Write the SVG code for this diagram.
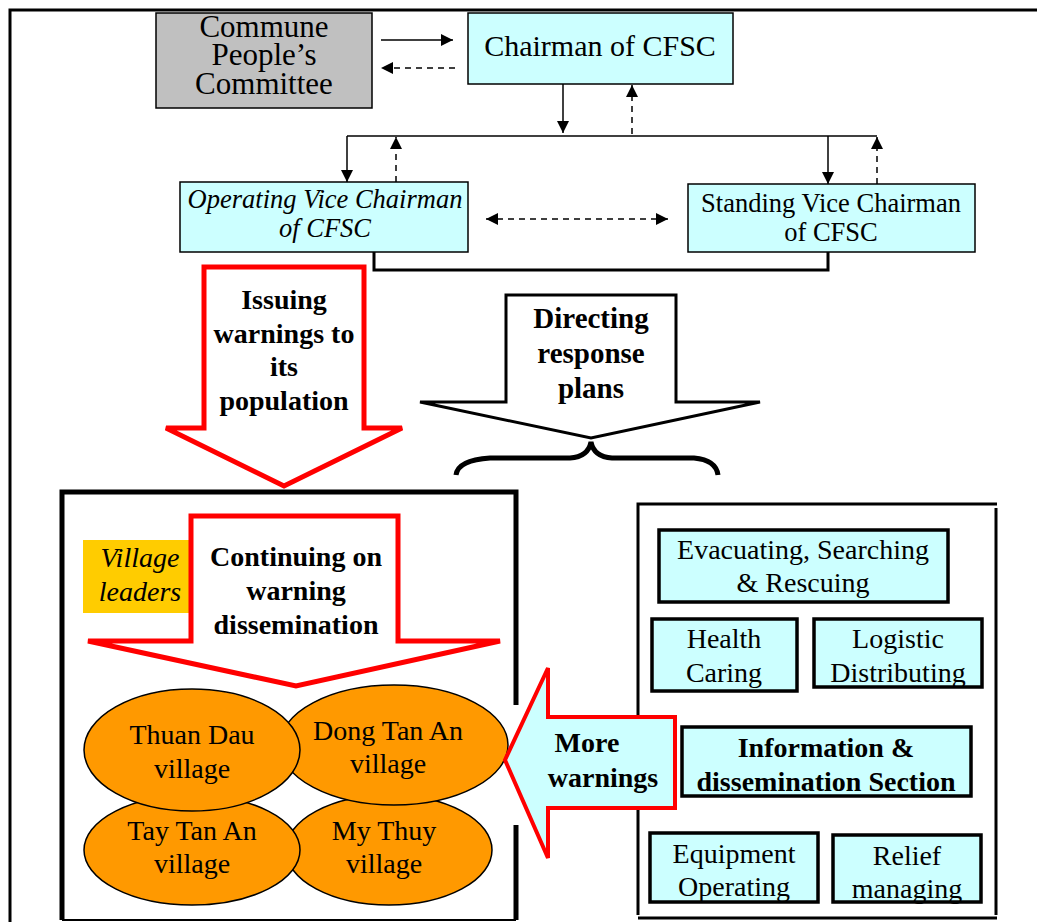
<svg xmlns="http://www.w3.org/2000/svg" width="1037" height="922" viewBox="0 0 1037 922">
<style>
.t{font-family:"Liberation Serif","Times New Roman",serif;fill:#000;text-anchor:middle}
.b{font-weight:bold}
.i{font-style:italic}
.cy{fill:#ccffff;stroke:#000;stroke-width:1.5}
.sub{fill:#ccffff;stroke:#000;stroke-width:3.5}
.ln{stroke:#000;stroke-width:1.5;fill:none}
.ds{stroke-dasharray:6 5}
.red{fill:#fff;stroke:#ff0000;stroke-width:5}
.vil{fill:#ff9900;stroke:#000;stroke-width:1.5}
</style>
<defs>
<marker id="ah" viewBox="0 0 10 10" refX="10" refY="5" markerWidth="14" markerHeight="12" markerUnits="userSpaceOnUse" orient="auto-start-reverse"><path d="M0,0 L10,5 L0,10 z" fill="#000"/></marker>
</defs>
<rect width="1037" height="922" fill="#fff"/>
<path d="M10,922 V10 H1037" fill="none" stroke="#000" stroke-width="3"/>

<g id="connectors">
<line class="ln" x1="381" y1="40" x2="453" y2="40" marker-end="url(#ah)"/>
<line class="ln ds" x1="455" y1="68" x2="381" y2="68" marker-end="url(#ah)"/>
<line class="ln" x1="563" y1="84" x2="563" y2="133" marker-end="url(#ah)"/>
<line class="ln ds" x1="632" y1="134" x2="632" y2="85" marker-end="url(#ah)"/>
<line class="ln" x1="347" y1="136" x2="877" y2="136"/>
<line class="ln" x1="347" y1="136" x2="347" y2="182" marker-end="url(#ah)"/>
<line class="ln ds" x1="396" y1="182" x2="396" y2="137" marker-end="url(#ah)"/>
<line class="ln" x1="828" y1="136" x2="828" y2="184" marker-end="url(#ah)"/>
<line class="ln ds" x1="877" y1="184" x2="877" y2="137" marker-end="url(#ah)"/>
<line class="ln ds" x1="486" y1="219" x2="668" y2="219" marker-start="url(#ah)" marker-end="url(#ah)"/>
<path d="M374,252 V270 H828 V251" fill="none" stroke="#000" stroke-width="3"/>
</g>

<g id="commune">
<rect x="156" y="13" width="216" height="95" fill="#c0c0c0" stroke="#000" stroke-width="1.5"/>
<text class="t" x="264" y="37" font-size="31">Commune</text>
<text class="t" x="264" y="65" font-size="31">People’s</text>
<text class="t" x="264" y="94" font-size="31">Committee</text>
</g>

<g id="chairman">
<rect class="cy" x="468" y="13" width="265" height="71"/>
<text class="t" x="600" y="56" font-size="30">Chairman of CFSC</text>
</g>

<g id="operating">
<rect class="cy" x="180" y="182" width="288" height="70"/>
<text class="t i" x="325" y="208" font-size="26.5">Operating Vice Chairman</text>
<text class="t i" x="325" y="237" font-size="26.5">of CFSC</text>
</g>

<g id="standing">
<rect class="cy" x="688" y="184" width="287" height="68"/>
<text class="t" x="831" y="212" font-size="26.5">Standing Vice Chairman</text>
<text class="t" x="831" y="241" font-size="26.5">of CFSC</text>
</g>

<g id="issuing">
<path class="red" d="M204,267 H364 V428 H402 L284,486 L166,428 H204 Z"/>
<text class="t b" x="284" y="309" font-size="28">Issuing</text>
<text class="t b" x="284" y="343" font-size="28">warnings to</text>
<text class="t b" x="284" y="376" font-size="28">its</text>
<text class="t b" x="284" y="410" font-size="28">population</text>
</g>

<g id="directing">
<path d="M506,295 H676 V402 H760 L591,438 L420,402 H506 Z" fill="#fff" stroke="#000" stroke-width="3"/>
<text class="t b" x="591" y="328" font-size="29">Directing</text>
<text class="t b" x="591" y="363" font-size="29">response</text>
<text class="t b" x="591" y="398" font-size="29">plans</text>
</g>

<g id="brace">
<path d="M456,475 Q458,460 490,458 H570 Q588,457 591,442 Q594,457 612,458 H694 Q716,460 718,475" fill="none" stroke="#000" stroke-width="5"/>
</g>

<g id="village-frame">
<path d="M62,920 V492 H516 V705" fill="none" stroke="#000" stroke-width="5"/>
<path d="M516,825 V920" fill="none" stroke="#000" stroke-width="5"/>
<path d="M62,920 H516" fill="none" stroke="#000" stroke-width="2"/>
</g>

<g id="village-leaders">
<rect x="83" y="540" width="107" height="73" fill="#ffcc00"/>
<text class="t i" x="140" y="567" font-size="28">Village</text>
<text class="t i" x="140" y="601" font-size="28">leaders</text>
</g>

<g id="continuing">
<path class="red" d="M191,516 H398 V641 H500 L296,686 L88,641 H191 Z"/>
<text class="t b" x="296" y="566" font-size="28">Continuing on</text>
<text class="t b" x="296" y="600" font-size="28">warning</text>
<text class="t b" x="296" y="634" font-size="28">dissemination</text>
</g>

<g id="my-thuy">
<ellipse class="vil" cx="389" cy="850" rx="103" ry="55"/>
<text class="t" x="384" y="840" font-size="28">My Thuy</text>
<text class="t" x="384" y="873" font-size="28">village</text>
</g>
<g id="tay-tan-an">
<ellipse class="vil" cx="192" cy="850" rx="108" ry="55"/>
<text class="t" x="192" y="840" font-size="28">Tay Tan An</text>
<text class="t" x="192" y="873" font-size="28">village</text>
</g>
<g id="dong-tan-an">
<ellipse class="vil" cx="394" cy="745" rx="114" ry="60"/>
<text class="t" x="388" y="740" font-size="28">Dong Tan An</text>
<text class="t" x="388" y="773" font-size="28">village</text>
</g>
<g id="thuan-dau">
<ellipse class="vil" cx="192" cy="750" rx="108" ry="61"/>
<text class="t" x="192" y="744" font-size="28">Thuan Dau</text>
<text class="t" x="192" y="778" font-size="28">village</text>
</g>

<g id="response-frame">
<path d="M638,915 V504 H997 M996,508 V915 M638,918 H997" fill="none" stroke="#000" stroke-width="3"/>
</g>

<g id="more-warnings">
<path d="M675,717 H548 V668 L505,760 L548,858 V808 H675 Z" fill="#ccffff" stroke="#ff0000" stroke-width="4"/>
<text class="t b" x="587" y="752" font-size="28">More</text>
<text class="t b" x="603" y="787" font-size="28">warnings</text>
</g>

<g id="evacuating">
<rect class="sub" x="659" y="530" width="289" height="72"/>
<text class="t" x="803" y="559" font-size="28">Evacuating, Searching</text>
<text class="t" x="803" y="592" font-size="28">&amp; Rescuing</text>
</g>
<g id="health">
<rect class="sub" x="652" y="619" width="145" height="72"/>
<text class="t" x="724" y="648" font-size="28">Health</text>
<text class="t" x="724" y="682" font-size="28">Caring</text>
</g>
<g id="logistic">
<rect class="sub" x="814" y="619" width="168" height="68"/>
<text class="t" x="898" y="648" font-size="28">Logistic</text>
<text class="t" x="898" y="682" font-size="28">Distributing</text>
</g>
<g id="information">
<rect class="sub" x="682" y="727" width="289" height="69"/>
<text class="t b" x="826" y="757" font-size="28">Information &amp;</text>
<text class="t b" x="826" y="791" font-size="28">dissemination Section</text>
</g>
<g id="equipment">
<rect class="sub" x="650" y="833" width="168" height="69"/>
<text class="t" x="734" y="863" font-size="28">Equipment</text>
<text class="t" x="734" y="896" font-size="28">Operating</text>
</g>
<g id="relief">
<rect class="sub" x="833" y="835" width="148" height="67"/>
<text class="t" x="907" y="865" font-size="28">Relief</text>
<text class="t" x="907" y="898" font-size="28">managing</text>
</g>
</svg>
